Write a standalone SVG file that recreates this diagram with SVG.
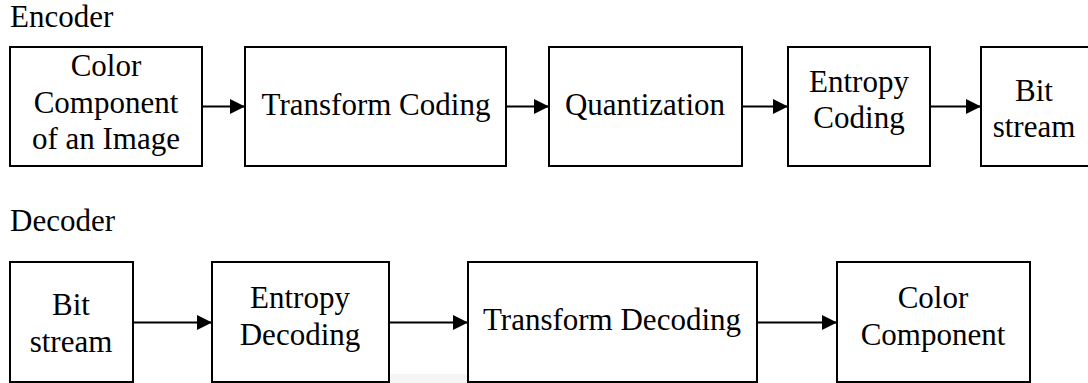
<svg xmlns="http://www.w3.org/2000/svg" width="1088" height="383" viewBox="0 0 1088 383">
<style>
.box{fill:#fff;stroke:#000;stroke-width:2}
.t{font-family:"Liberation Serif","Times New Roman",serif;font-size:31px;fill:#000;text-anchor:middle}
.lbl{font-family:"Liberation Serif","Times New Roman",serif;font-size:31px;fill:#000}
.c{stroke:#000;stroke-width:2;fill:none;marker-end:url(#ah)}
</style>
<defs>
<marker id="ah" markerUnits="userSpaceOnUse" markerWidth="16" markerHeight="16" refX="15" refY="7.5" orient="auto">
<path d="M0,0 L15,7.5 L0,15 Z" fill="#000"/>
</marker>
</defs>
<rect x="0" y="0" width="1088" height="383" fill="#fff"/>
<rect x="390" y="374" width="78" height="9" fill="#f5f5f5"/>
<text class="lbl" x="10" y="27">Encoder</text>
<text class="lbl" x="10" y="231">Decoder</text>
<g id="connectors">
<line class="c" x1="202" y1="106.5" x2="245" y2="106.5"/>
<line class="c" x1="506" y1="106.5" x2="549" y2="106.5"/>
<line class="c" x1="742" y1="106.5" x2="788" y2="106.5"/>
<line class="c" x1="930" y1="106.5" x2="981" y2="106.5"/>
<line class="c" x1="133" y1="322.5" x2="212" y2="322.5"/>
<line class="c" x1="389" y1="322.5" x2="468" y2="322.5"/>
<line class="c" x1="757" y1="322.5" x2="837" y2="322.5"/>
</g>
<g id="enc1"><rect class="box" x="10" y="47" width="192" height="119"/>
<text class="t" x="106" y="76">Color</text><text class="t" x="106" y="113">Component</text><text class="t" x="106" y="149">of an Image</text></g>
<g id="enc2"><rect class="box" x="245" y="47" width="261" height="119"/>
<text class="t" x="376" y="115">Transform Coding</text></g>
<g id="enc3"><rect class="box" x="549" y="47" width="193" height="119"/>
<text class="t" x="645" y="115">Quantization</text></g>
<g id="enc4"><rect class="box" x="788" y="47" width="142" height="119"/>
<text class="t" x="859" y="92">Entropy</text><text class="t" x="859" y="128">Coding</text></g>
<g id="enc5"><rect class="box" x="981" y="47" width="120" height="119"/>
<text class="t" x="1034" y="101">Bit</text><text class="t" x="1034" y="137">stream</text></g>
<g id="dec1"><rect class="box" x="10" y="262" width="123" height="120"/>
<text class="t" x="71" y="315">Bit</text><text class="t" x="71" y="352">stream</text></g>
<g id="dec2"><rect class="box" x="212" y="262" width="177" height="120"/>
<text class="t" x="300" y="308">Entropy</text><text class="t" x="300" y="345">Decoding</text></g>
<g id="dec3"><rect class="box" x="468" y="262" width="289" height="120"/>
<text class="t" x="612" y="330">Transform Decoding</text></g>
<g id="dec4"><rect class="box" x="837" y="262" width="193" height="120"/>
<text class="t" x="933" y="308">Color</text><text class="t" x="933" y="345">Component</text></g>
</svg>
